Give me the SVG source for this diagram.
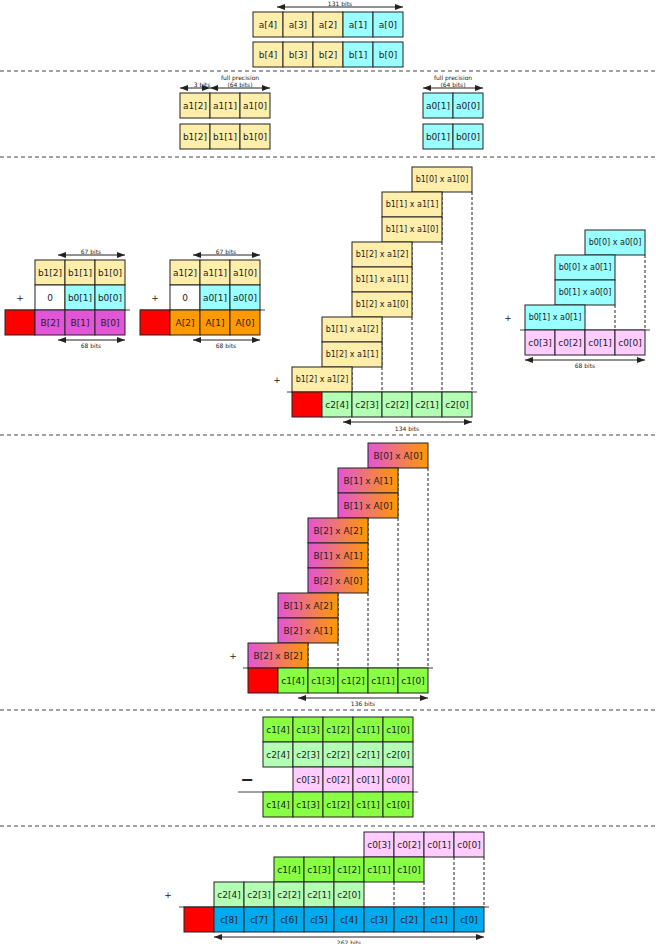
<svg xmlns="http://www.w3.org/2000/svg" width="656" height="944" viewBox="0 0 656 944">
<style>
rect{stroke:#222;stroke-width:1}
.y{fill:#ffeeaa}.cy{fill:#99ffff}.m{fill:#e255d6}.o{fill:#ff9900}.r{fill:#ff0000}.lg{fill:#b3ffb3}.g{fill:#88ff44}.p{fill:#ffccff}.bl{fill:#00aaee}.w{fill:#ffffff}.gr{fill:url(#mg)}
text{font-family:"DejaVu Sans",sans-serif;fill:#222;text-anchor:middle;dominant-baseline:central}
.t{font-size:9px}.s{font-size:8px}.l{font-size:6px}
.sep{stroke:#444;stroke-width:1;stroke-dasharray:4,3}
.sum{stroke:#444;stroke-width:1}
.dv{stroke:#222;stroke-width:1;stroke-dasharray:3,2}
.ar{stroke:#222;stroke-width:1;marker-start:url(#ah);marker-end:url(#ah)}
</style>
<defs>
<marker id="ah" viewBox="0 0 8 6" refX="8" refY="3" markerWidth="8" markerHeight="6" markerUnits="userSpaceOnUse" orient="auto-start-reverse"><path d="M0,0L8,3L0,6z" fill="#222"/></marker>
<linearGradient id="mg" x1="0" y1="0" x2="1" y2="0"><stop offset="0" stop-color="#e255d6"/><stop offset="1" stop-color="#ff9900"/></linearGradient>
</defs>
<g id="connectors">
<line class="sep" x1="0" y1="71" x2="656" y2="71"/>
<line class="sep" x1="0" y1="157" x2="656" y2="157"/>
<line class="sep" x1="0" y1="435" x2="656" y2="435"/>
<line class="sep" x1="0" y1="710" x2="656" y2="710"/>
<line class="sep" x1="0" y1="826" x2="656" y2="826"/>
<line class="ar" x1="277" y1="7" x2="403" y2="7"/>
<line class="ar" x1="180" y1="88" x2="210" y2="88"/>
<line class="ar" x1="210" y1="88" x2="270" y2="88"/>
<line class="ar" x1="423" y1="88" x2="483" y2="88"/>
<line class="ar" x1="58" y1="255" x2="125" y2="255"/>
<line class="ar" x1="58" y1="340" x2="125" y2="340"/>
<line class="ar" x1="193" y1="255" x2="260" y2="255"/>
<line class="ar" x1="193" y1="340" x2="260" y2="340"/>
<line class="ar" x1="343" y1="422" x2="472" y2="422"/>
<line class="ar" x1="525" y1="360" x2="645" y2="360"/>
<line class="ar" x1="298" y1="698" x2="428" y2="698"/>
<line class="ar" x1="214" y1="937" x2="484" y2="937"/>
<line class="sum" x1="5" y1="310" x2="130" y2="310"/>
<line class="sum" x1="140" y1="310" x2="265" y2="310"/>
<line class="sum" x1="287" y1="392" x2="477" y2="392"/>
<line class="sum" x1="520" y1="330" x2="650" y2="330"/>
<line class="sum" x1="243" y1="668" x2="433" y2="668"/>
<line class="sum" x1="238" y1="792" x2="418" y2="792"/>
<line class="sum" x1="179" y1="907" x2="489" y2="907"/>
<line class="dv" x1="472" y1="192" x2="472" y2="392"/>
<line class="dv" x1="442" y1="192" x2="442" y2="392"/>
<line class="dv" x1="412" y1="242" x2="412" y2="392"/>
<line class="dv" x1="382" y1="317" x2="382" y2="392"/>
<line class="dv" x1="352" y1="367" x2="352" y2="392"/>
<line class="dv" x1="645" y1="255" x2="645" y2="330"/>
<line class="dv" x1="615" y1="305" x2="615" y2="330"/>
<line class="dv" x1="428" y1="468" x2="428" y2="668"/>
<line class="dv" x1="398" y1="468" x2="398" y2="668"/>
<line class="dv" x1="368" y1="518" x2="368" y2="668"/>
<line class="dv" x1="338" y1="593" x2="338" y2="668"/>
<line class="dv" x1="308" y1="643" x2="308" y2="668"/>
<line class="dv" x1="484" y1="857" x2="484" y2="907"/>
<line class="dv" x1="454" y1="857" x2="454" y2="907"/>
<line class="dv" x1="424" y1="882" x2="424" y2="907"/>
<line class="dv" x1="394" y1="882" x2="394" y2="907"/>
</g>
<g id="labels">
<text class="l" x="340" y="3">131 bits</text>
<text class="l" x="202" y="84">3 bits</text>
<text class="l" x="240" y="77">full precision</text>
<text class="l" x="453" y="77">full precision</text>
<text class="l" x="240" y="84">(64 bits)</text>
<text class="l" x="453" y="84">(64 bits)</text>
<text class="l" x="91" y="251">67 bits</text>
<text class="l" x="91" y="345">68 bits</text>
<text class="l" x="226" y="251">67 bits</text>
<text class="l" x="226" y="345">68 bits</text>
<text class="l" x="407" y="428">134 bits</text>
<text class="l" x="585" y="365">68 bits</text>
<text class="l" x="363" y="703">136 bits</text>
<text class="l" x="349" y="942">262 bits</text>
<text class="t" x="20" y="298">+</text>
<text class="t" x="155" y="298">+</text>
<text class="t" x="277" y="380">+</text>
<text class="t" x="508" y="318">+</text>
<text class="t" x="233" y="656">+</text>
<text class="t" x="168" y="895">+</text>
<text x="247" y="779" style="font-size:16px;font-weight:bold">−</text>
</g>
<g id="sec1">
<g id="a4"><rect class="y" x="253" y="12" width="30" height="25"/><text class="t" x="268" y="24.5">a[4]</text></g>
<g id="a3"><rect class="y" x="283" y="12" width="30" height="25"/><text class="t" x="298" y="24.5">a[3]</text></g>
<g id="a2"><rect class="y" x="313" y="12" width="30" height="25"/><text class="t" x="328" y="24.5">a[2]</text></g>
<g id="a1"><rect class="cy" x="343" y="12" width="30" height="25"/><text class="t" x="358" y="24.5">a[1]</text></g>
<g id="a0"><rect class="cy" x="373" y="12" width="30" height="25"/><text class="t" x="388" y="24.5">a[0]</text></g>
<g id="b4"><rect class="y" x="253" y="42" width="30" height="25"/><text class="t" x="268" y="54.5">b[4]</text></g>
<g id="b3"><rect class="y" x="283" y="42" width="30" height="25"/><text class="t" x="298" y="54.5">b[3]</text></g>
<g id="b2"><rect class="y" x="313" y="42" width="30" height="25"/><text class="t" x="328" y="54.5">b[2]</text></g>
<g id="b1"><rect class="cy" x="343" y="42" width="30" height="25"/><text class="t" x="358" y="54.5">b[1]</text></g>
<g id="b0"><rect class="cy" x="373" y="42" width="30" height="25"/><text class="t" x="388" y="54.5">b[0]</text></g>
</g>
<g id="sec2">
<g id="a1_2"><rect class="y" x="180" y="93" width="30" height="25"/><text class="t" x="195" y="105.5">a1[2]</text></g>
<g id="a1_1"><rect class="y" x="210" y="93" width="30" height="25"/><text class="t" x="225" y="105.5">a1[1]</text></g>
<g id="a1_0"><rect class="y" x="240" y="93" width="30" height="25"/><text class="t" x="255" y="105.5">a1[0]</text></g>
<g id="b1_2"><rect class="y" x="180" y="124" width="30" height="25"/><text class="t" x="195" y="136.5">b1[2]</text></g>
<g id="b1_1"><rect class="y" x="210" y="124" width="30" height="25"/><text class="t" x="225" y="136.5">b1[1]</text></g>
<g id="b1_0"><rect class="y" x="240" y="124" width="30" height="25"/><text class="t" x="255" y="136.5">b1[0]</text></g>
<g id="a0_1"><rect class="cy" x="423" y="93" width="30" height="25"/><text class="t" x="438" y="105.5">a0[1]</text></g>
<g id="a0_0"><rect class="cy" x="453" y="93" width="30" height="25"/><text class="t" x="468" y="105.5">a0[0]</text></g>
<g id="b0_1"><rect class="cy" x="423" y="124" width="30" height="25"/><text class="t" x="438" y="136.5">b0[1]</text></g>
<g id="b0_0"><rect class="cy" x="453" y="124" width="30" height="25"/><text class="t" x="468" y="136.5">b0[0]</text></g>
</g>
<g id="sec3a">
<g id="s3b12"><rect class="y" x="35" y="260" width="30" height="25"/><text class="t" x="50" y="272.5">b1[2]</text></g>
<g id="s3b11"><rect class="y" x="65" y="260" width="30" height="25"/><text class="t" x="80" y="272.5">b1[1]</text></g>
<g id="s3b10"><rect class="y" x="95" y="260" width="30" height="25"/><text class="t" x="110" y="272.5">b1[0]</text></g>
<g id="s3z1"><rect class="w" x="35" y="285" width="30" height="25"/><text class="t" x="50" y="297.5">0</text></g>
<g id="s3b01"><rect class="cy" x="65" y="285" width="30" height="25"/><text class="t" x="80" y="297.5">b0[1]</text></g>
<g id="s3b00"><rect class="cy" x="95" y="285" width="30" height="25"/><text class="t" x="110" y="297.5">b0[0]</text></g>
<g id="s3r1"><rect class="r" x="5" y="310" width="30" height="25"/></g>
<g id="B2"><rect class="m" x="35" y="310" width="30" height="25"/><text class="t" x="50" y="322.5">B[2]</text></g>
<g id="B1"><rect class="m" x="65" y="310" width="30" height="25"/><text class="t" x="80" y="322.5">B[1]</text></g>
<g id="B0"><rect class="m" x="95" y="310" width="30" height="25"/><text class="t" x="110" y="322.5">B[0]</text></g>
<g id="s3a12"><rect class="y" x="170" y="260" width="30" height="25"/><text class="t" x="185" y="272.5">a1[2]</text></g>
<g id="s3a11"><rect class="y" x="200" y="260" width="30" height="25"/><text class="t" x="215" y="272.5">a1[1]</text></g>
<g id="s3a10"><rect class="y" x="230" y="260" width="30" height="25"/><text class="t" x="245" y="272.5">a1[0]</text></g>
<g id="s3z2"><rect class="w" x="170" y="285" width="30" height="25"/><text class="t" x="185" y="297.5">0</text></g>
<g id="s3a01"><rect class="cy" x="200" y="285" width="30" height="25"/><text class="t" x="215" y="297.5">a0[1]</text></g>
<g id="s3a00"><rect class="cy" x="230" y="285" width="30" height="25"/><text class="t" x="245" y="297.5">a0[0]</text></g>
<g id="s3r2"><rect class="r" x="140" y="310" width="30" height="25"/></g>
<g id="A2"><rect class="o" x="170" y="310" width="30" height="25"/><text class="t" x="185" y="322.5">A[2]</text></g>
<g id="A1"><rect class="o" x="200" y="310" width="30" height="25"/><text class="t" x="215" y="322.5">A[1]</text></g>
<g id="A0"><rect class="o" x="230" y="310" width="30" height="25"/><text class="t" x="245" y="322.5">A[0]</text></g>
</g>
<g id="sec3b">
<g id="p1"><rect class="y" x="412" y="167" width="60" height="25"/><text class="s" x="442" y="179.5">b1[0] x a1[0]</text></g>
<g id="p2"><rect class="y" x="382" y="192" width="60" height="25"/><text class="s" x="412" y="204.5">b1[1] x a1[1]</text></g>
<g id="p3"><rect class="y" x="382" y="217" width="60" height="25"/><text class="s" x="412" y="229.5">b1[1] x a1[0]</text></g>
<g id="p4"><rect class="y" x="352" y="242" width="60" height="25"/><text class="s" x="382" y="254.5">b1[2] x a1[2]</text></g>
<g id="p5"><rect class="y" x="352" y="267" width="60" height="25"/><text class="s" x="382" y="279.5">b1[1] x a1[1]</text></g>
<g id="p6"><rect class="y" x="352" y="292" width="60" height="25"/><text class="s" x="382" y="304.5">b1[2] x a1[0]</text></g>
<g id="p7"><rect class="y" x="322" y="317" width="60" height="25"/><text class="s" x="352" y="329.5">b1[1] x a1[2]</text></g>
<g id="p8"><rect class="y" x="322" y="342" width="60" height="25"/><text class="s" x="352" y="354.5">b1[2] x a1[1]</text></g>
<g id="p9"><rect class="y" x="292" y="367" width="60" height="25"/><text class="s" x="322" y="379.5">b1[2] x a1[2]</text></g>
<g id="s3r3"><rect class="r" x="292" y="392" width="30" height="25"/></g>
<g id="c24"><rect class="lg" x="322" y="392" width="30" height="25"/><text class="t" x="337" y="404.5">c2[4]</text></g>
<g id="c23"><rect class="lg" x="352" y="392" width="30" height="25"/><text class="t" x="367" y="404.5">c2[3]</text></g>
<g id="c22"><rect class="lg" x="382" y="392" width="30" height="25"/><text class="t" x="397" y="404.5">c2[2]</text></g>
<g id="c21"><rect class="lg" x="412" y="392" width="30" height="25"/><text class="t" x="427" y="404.5">c2[1]</text></g>
<g id="c20"><rect class="lg" x="442" y="392" width="30" height="25"/><text class="t" x="457" y="404.5">c2[0]</text></g>
</g>
<g id="sec3c">
<g id="q1"><rect class="cy" x="585" y="230" width="60" height="25"/><text class="s" x="615" y="242.5">b0[0] x a0[0]</text></g>
<g id="q2"><rect class="cy" x="555" y="255" width="60" height="25"/><text class="s" x="585" y="267.5">b0[0] x a0[1]</text></g>
<g id="q3"><rect class="cy" x="555" y="280" width="60" height="25"/><text class="s" x="585" y="292.5">b0[1] x a0[0]</text></g>
<g id="q4"><rect class="cy" x="525" y="305" width="60" height="25"/><text class="s" x="555" y="317.5">b0[1] x a0[1]</text></g>
<g id="c03"><rect class="p" x="525" y="330" width="30" height="25"/><text class="t" x="540" y="342.5">c0[3]</text></g>
<g id="c02"><rect class="p" x="555" y="330" width="30" height="25"/><text class="t" x="570" y="342.5">c0[2]</text></g>
<g id="c01"><rect class="p" x="585" y="330" width="30" height="25"/><text class="t" x="600" y="342.5">c0[1]</text></g>
<g id="c00"><rect class="p" x="615" y="330" width="30" height="25"/><text class="t" x="630" y="342.5">c0[0]</text></g>
</g>
<g id="sec4">
<g id="m1"><rect class="gr" x="368" y="443" width="60" height="25"/><text class="t" x="398" y="455.5">B[0] x A[0]</text></g>
<g id="m2"><rect class="gr" x="338" y="468" width="60" height="25"/><text class="t" x="368" y="480.5">B[1] x A[1]</text></g>
<g id="m3"><rect class="gr" x="338" y="493" width="60" height="25"/><text class="t" x="368" y="505.5">B[1] x A[0]</text></g>
<g id="m4"><rect class="gr" x="308" y="518" width="60" height="25"/><text class="t" x="338" y="530.5">B[2] x A[2]</text></g>
<g id="m5"><rect class="gr" x="308" y="543" width="60" height="25"/><text class="t" x="338" y="555.5">B[1] x A[1]</text></g>
<g id="m6"><rect class="gr" x="308" y="568" width="60" height="25"/><text class="t" x="338" y="580.5">B[2] x A[0]</text></g>
<g id="m7"><rect class="gr" x="278" y="593" width="60" height="25"/><text class="t" x="308" y="605.5">B[1] x A[2]</text></g>
<g id="m8"><rect class="gr" x="278" y="618" width="60" height="25"/><text class="t" x="308" y="630.5">B[2] x A[1]</text></g>
<g id="m9"><rect class="gr" x="248" y="643" width="60" height="25"/><text class="t" x="278" y="655.5">B[2] x B[2]</text></g>
<g id="s4r"><rect class="r" x="248" y="668" width="30" height="25"/></g>
<g id="c14"><rect class="g" x="278" y="668" width="30" height="25"/><text class="t" x="293" y="680.5">c1[4]</text></g>
<g id="c13"><rect class="g" x="308" y="668" width="30" height="25"/><text class="t" x="323" y="680.5">c1[3]</text></g>
<g id="c12"><rect class="g" x="338" y="668" width="30" height="25"/><text class="t" x="353" y="680.5">c1[2]</text></g>
<g id="c11"><rect class="g" x="368" y="668" width="30" height="25"/><text class="t" x="383" y="680.5">c1[1]</text></g>
<g id="c10"><rect class="g" x="398" y="668" width="30" height="25"/><text class="t" x="413" y="680.5">c1[0]</text></g>
</g>
<g id="sec5">
<g id="d14"><rect class="g" x="263" y="717" width="30" height="25"/><text class="t" x="278" y="729.5">c1[4]</text></g>
<g id="d13"><rect class="g" x="293" y="717" width="30" height="25"/><text class="t" x="308" y="729.5">c1[3]</text></g>
<g id="d12"><rect class="g" x="323" y="717" width="30" height="25"/><text class="t" x="338" y="729.5">c1[2]</text></g>
<g id="d11"><rect class="g" x="353" y="717" width="30" height="25"/><text class="t" x="368" y="729.5">c1[1]</text></g>
<g id="d10"><rect class="g" x="383" y="717" width="30" height="25"/><text class="t" x="398" y="729.5">c1[0]</text></g>
<g id="d24"><rect class="lg" x="263" y="742" width="30" height="25"/><text class="t" x="278" y="754.5">c2[4]</text></g>
<g id="d23"><rect class="lg" x="293" y="742" width="30" height="25"/><text class="t" x="308" y="754.5">c2[3]</text></g>
<g id="d22"><rect class="lg" x="323" y="742" width="30" height="25"/><text class="t" x="338" y="754.5">c2[2]</text></g>
<g id="d21"><rect class="lg" x="353" y="742" width="30" height="25"/><text class="t" x="368" y="754.5">c2[1]</text></g>
<g id="d20"><rect class="lg" x="383" y="742" width="30" height="25"/><text class="t" x="398" y="754.5">c2[0]</text></g>
<g id="d03"><rect class="p" x="293" y="767" width="30" height="25"/><text class="t" x="308" y="779.5">c0[3]</text></g>
<g id="d02"><rect class="p" x="323" y="767" width="30" height="25"/><text class="t" x="338" y="779.5">c0[2]</text></g>
<g id="d01"><rect class="p" x="353" y="767" width="30" height="25"/><text class="t" x="368" y="779.5">c0[1]</text></g>
<g id="d00"><rect class="p" x="383" y="767" width="30" height="25"/><text class="t" x="398" y="779.5">c0[0]</text></g>
<g id="e14"><rect class="g" x="263" y="792" width="30" height="25"/><text class="t" x="278" y="804.5">c1[4]</text></g>
<g id="e13"><rect class="g" x="293" y="792" width="30" height="25"/><text class="t" x="308" y="804.5">c1[3]</text></g>
<g id="e12"><rect class="g" x="323" y="792" width="30" height="25"/><text class="t" x="338" y="804.5">c1[2]</text></g>
<g id="e11"><rect class="g" x="353" y="792" width="30" height="25"/><text class="t" x="368" y="804.5">c1[1]</text></g>
<g id="e10"><rect class="g" x="383" y="792" width="30" height="25"/><text class="t" x="398" y="804.5">c1[0]</text></g>
</g>
<g id="sec6">
<g id="f03"><rect class="p" x="364" y="832" width="30" height="25"/><text class="t" x="379" y="844.5">c0[3]</text></g>
<g id="f02"><rect class="p" x="394" y="832" width="30" height="25"/><text class="t" x="409" y="844.5">c0[2]</text></g>
<g id="f01"><rect class="p" x="424" y="832" width="30" height="25"/><text class="t" x="439" y="844.5">c0[1]</text></g>
<g id="f00"><rect class="p" x="454" y="832" width="30" height="25"/><text class="t" x="469" y="844.5">c0[0]</text></g>
<g id="f14"><rect class="g" x="274" y="857" width="30" height="25"/><text class="t" x="289" y="869.5">c1[4]</text></g>
<g id="f13"><rect class="g" x="304" y="857" width="30" height="25"/><text class="t" x="319" y="869.5">c1[3]</text></g>
<g id="f12"><rect class="g" x="334" y="857" width="30" height="25"/><text class="t" x="349" y="869.5">c1[2]</text></g>
<g id="f11"><rect class="g" x="364" y="857" width="30" height="25"/><text class="t" x="379" y="869.5">c1[1]</text></g>
<g id="f10"><rect class="g" x="394" y="857" width="30" height="25"/><text class="t" x="409" y="869.5">c1[0]</text></g>
<g id="f24"><rect class="lg" x="214" y="882" width="30" height="25"/><text class="t" x="229" y="894.5">c2[4]</text></g>
<g id="f23"><rect class="lg" x="244" y="882" width="30" height="25"/><text class="t" x="259" y="894.5">c2[3]</text></g>
<g id="f22"><rect class="lg" x="274" y="882" width="30" height="25"/><text class="t" x="289" y="894.5">c2[2]</text></g>
<g id="f21"><rect class="lg" x="304" y="882" width="30" height="25"/><text class="t" x="319" y="894.5">c2[1]</text></g>
<g id="f20"><rect class="lg" x="334" y="882" width="30" height="25"/><text class="t" x="349" y="894.5">c2[0]</text></g>
<g id="s6r"><rect class="r" x="184" y="907" width="30" height="25"/></g>
<g id="c8"><rect class="bl" x="214" y="907" width="30" height="25"/><text class="t" x="229" y="919.5">c[8]</text></g>
<g id="c7"><rect class="bl" x="244" y="907" width="30" height="25"/><text class="t" x="259" y="919.5">c[7]</text></g>
<g id="c6"><rect class="bl" x="274" y="907" width="30" height="25"/><text class="t" x="289" y="919.5">c[6]</text></g>
<g id="c5"><rect class="bl" x="304" y="907" width="30" height="25"/><text class="t" x="319" y="919.5">c[5]</text></g>
<g id="c4"><rect class="bl" x="334" y="907" width="30" height="25"/><text class="t" x="349" y="919.5">c[4]</text></g>
<g id="c3"><rect class="bl" x="364" y="907" width="30" height="25"/><text class="t" x="379" y="919.5">c[3]</text></g>
<g id="c2"><rect class="bl" x="394" y="907" width="30" height="25"/><text class="t" x="409" y="919.5">c[2]</text></g>
<g id="c1"><rect class="bl" x="424" y="907" width="30" height="25"/><text class="t" x="439" y="919.5">c[1]</text></g>
<g id="c0"><rect class="bl" x="454" y="907" width="30" height="25"/><text class="t" x="469" y="919.5">c[0]</text></g>
</g>
</svg>
